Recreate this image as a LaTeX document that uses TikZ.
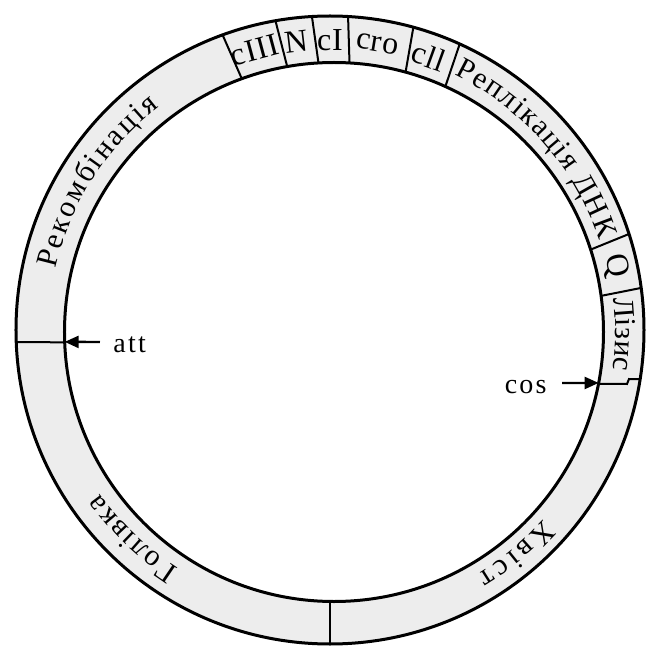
\documentclass[tikz,border=0pt]{standalone}
\usepackage{fontspec}
\setmainfont{Liberation Serif}
\newfontfamily\spacedfont[LetterSpace=8]{Liberation Serif}
\newfontfamily\genefont[LetterSpace=3]{Liberation Serif}
\usetikzlibrary{arrows.meta,decorations.text}

\begin{document}
\begin{tikzpicture}[
  x=0.5pt, y=0.5pt,
  font=\fontsize{14}{16}\selectfont,
  ring/.style={fill=black!7, even odd rule},
  rim/.style={line width=1.5pt, draw=black},
  divider/.style={line width=1pt, draw=black},
  gene/.style={inner sep=0pt, font=\genefont\fontsize{16}{18}\selectfont},
  tag/.style={font=\spacedfont\fontsize{14}{16}\selectfont, text height=10pt, text depth=0pt},
  pointer/.style={-{Triangle[length=7pt,width=6pt]}, line width=1.2pt, draw=black},
  arclabel/.style={decorate, decoration={text along path, text align={fit to path},
    text={|\fontsize{15}{17}\selectfont|#1}}}
]
  \useasboundingbox (-330,-318) rectangle (315,330);

  % ring
  \fill[ring] (0,0) circle[radius=314] (4,-2) circle[radius=269.5];

  % segment borders
  \foreach \ang in {182.2,110,100,93.3,86.7,74.6,65.6,17.8,7.7}
    \draw[divider] ([shift={(4,-2)}]\ang:269.5) -- (\ang:314);
  \draw[divider] (0,-271.4) -- (270:314);
  \draw[divider] ([shift={(4,-2)}]-11.1:269.5) -- (297,-54) -- (299,-49) -- (-9:314);

  \draw[rim] (0,0) circle[radius=314];
  \draw[rim] (4,-2) circle[radius=269.5];

  % labels along the ring
  \path[arclabel=Рекомбінація] (167.4:281) arc[start angle=167.4, end angle=127.4, radius=281];
  \path[arclabel={Реплікація ДНК}] (64:284) arc[start angle=64, end angle=18.5, radius=284];
  \path[arclabel=Лізис] (6.4:285.5) arc[start angle=6.4, end angle=-8, radius=285.5];
  \path[arclabel=Хвіст] (-41.5:285.5) arc[start angle=-41.5, end angle=-59, radius=285.5];
  \path[arclabel=Голівка] (237.5:282.5) arc[start angle=237.5, end angle=215.5, radius=282.5];

  % genes
  \node[gene, rotate=15] (cIII) at (105:290) {cIII};
  \node[gene, rotate=6.7] (N) at (96.7:290) {N};
  \node[gene] (cI) at (90:290) {cI};
  \node[gene, rotate=-9.4] (cro) at (80.6:290) {cro};
  \node[gene, rotate=-19.9] (cII) at (70.1:291) {cll};
  \node[gene, rotate=-77.3] (Q) at (12.7:293) {Q};

  % sites
  \coordinate (attsite) at ([shift={(4,-2)}]182.1:269.5);
  \coordinate (cossite) at ([shift={(4,-2)}]-10.9:269.5);
  \node[tag, anchor=west, inner xsep=6.5pt] (att) at (-230,-12) {att};
  \node[tag, anchor=east, inner xsep=7.5pt] (cos) at (232,-53) {cos};
  \draw[pointer] (att.west) -- (attsite);
  \draw[pointer] (cos.east) -- (cossite);
\end{tikzpicture}
\end{document}
